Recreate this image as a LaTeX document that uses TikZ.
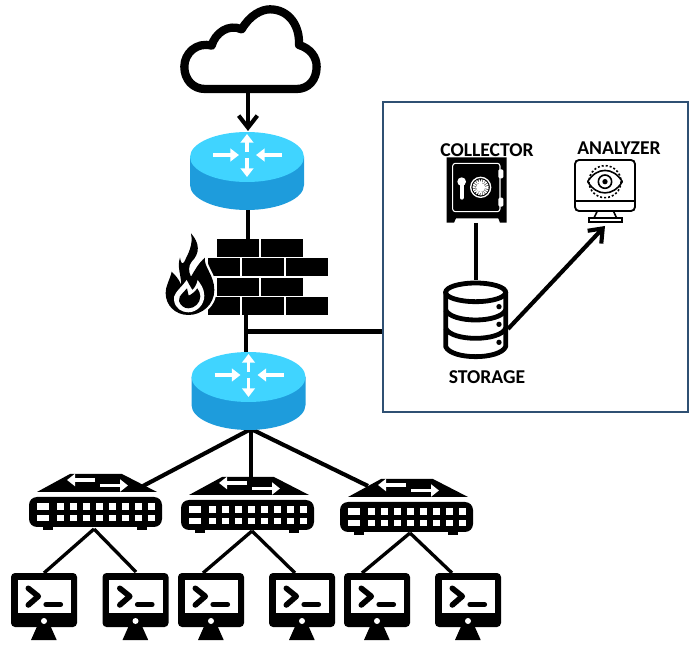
\documentclass[tikz,border=0pt]{standalone}
\usepackage{fontspec}
\setmainfont{Carlito}
\usetikzlibrary{arrows.meta}
\definecolor{routertop}{HTML}{40D4FF}
\definecolor{routerside}{HTML}{1E9CDC}
\definecolor{panelblue}{HTML}{2F5073}
\tikzset{
  px/.style={x=0.75pt,y=-0.75pt},
  wire/.style={line width=3.1pt,black},
  thinwire/.style={line width=2.5pt,black},
  barbwire/.style={line width=3.1pt,black,-{Straight Barb[length=9pt,width=14pt]}},
  whitearrow/.style={line width=2.4pt,white,-{Triangle[length=6.5pt,width=9.5pt]}},
  swarrow/.style={line width=2.4pt,white,-{Triangle[length=6pt,width=9pt]}},
  brick/.style={fill=black,draw=none},
  iconlabel/.style={font=\fontsize{14.7pt}{16pt}\selectfont\bfseries,inner sep=0pt,text=black},
  panelframe/.style={draw=panelblue,line width=2.2pt},
}
% router: top-ellipse centre at (#1,#2)
\newcommand{\drawrouter}[2]{%
  \begin{scope}[shift={(#1,#2)}]
    \fill[routerside] (-57,0) -- (-57,28) arc[start angle=180,end angle=0,x radius=57,y radius=25] -- (57,0) -- cycle;
    \fill[routertop] (0,0) ellipse[x radius=57,y radius=25];
    \draw[whitearrow] (-34,-2) -- (-8,-2);
    \draw[whitearrow] (35,-2) -- (9,-2);
    \draw[whitearrow] (0,-5) -- (0,-23);
    \draw[whitearrow] (0,1) -- (0,20);
  \end{scope}}
% switch: offset relative to first switch
\newcommand{\drawswitch}[2]{%
  \begin{scope}[shift={(#1,#2)}]
    \fill[black] (37,492) -- (70,474) -- (122,474) -- (157,492) -- cycle;
    \draw[swarrow] (95,480) -- (67,480);
    \draw[swarrow] (100,485.5) -- (128,485.5);
    \fill[black] (43,525) rectangle (53,530);
    \fill[black] (137,525) rectangle (147,530);
    \fill[black,rounded corners=6pt] (29,497) rectangle (162,527);
    \foreach \yy/\hh in {503/7,515/6}{
      \fill[white] (37,\yy) rectangle ++(12,\hh);
      \foreach \xx in {57,70,83,96,109,122,135,148}
        \fill[white] (\xx,\yy) rectangle ++(7,\hh);
    }
  \end{scope}}
% terminal: left edge #1, top 573
\newcommand{\drawterminal}[1]{%
  \begin{scope}[shift={(#1,573)}]
    \fill[black] (26.7,52) -- (39,52) -- (45.7,67) -- (20,67) -- cycle;
    \fill[black,rounded corners=3pt] (0,0) rectangle (66,54);
    \fill[white] (6.5,7) rectangle (60,40);
    \draw[black,line width=4.2pt,line cap=round,line join=round] (17.3,15.3) -- (27.3,23.3) -- (17.3,32);
    \draw[black,line width=3.9pt,line cap=round] (35,31.5) -- (49.5,31.5);
    \fill[white] (33,48) circle[radius=3];
  \end{scope}}
\begin{document}
\begin{tikzpicture}[px]
\useasboundingbox (0,0) rectangle (697,652);
% named connection points
\coordinate (cloudbottom) at (248,92);
\coordinate (routerAtop) at (248,131);
\coordinate (routerAbottom) at (248,209);
\coordinate (wallA) at (248,240);
\coordinate (wallB) at (246,314);
\coordinate (routerBtop) at (246,353);
\coordinate (tap) at (246,331.5);
\coordinate (panelW) at (383,331.5);
\coordinate (routerBbottom) at (251,429);
\coordinate (swAtop) at (143,486);
\coordinate (swBtop) at (251,484);
\coordinate (swCtop) at (368,486);
\coordinate (swAbot) at (94,529);
\coordinate (swBbot) at (252,531);
\coordinate (swCbot) at (410,533);
\coordinate (tA) at (44,573);
\coordinate (tB) at (136,572);
\coordinate (tC) at (203,573);
\coordinate (tD) at (295,573);
\coordinate (tE) at (362,573);
\coordinate (tF) at (452,573);
\coordinate (safebottom) at (476,223);
\coordinate (dbtop) at (476,280);
\coordinate (dbright) at (508,329);
\coordinate (monbottom) at (605,226);

% cloud (zoom coordinates)
\begin{scope}[shift={(150,0)},scale=0.3333]
  \draw[black,line width=6.2pt,fill=white,line join=round]
    (165,267) .. controls (130,267) and (103,240) .. (103,200)
    .. controls (103,160) and (140,125) .. (185,137)
    .. controls (195,100) and (235,70) .. (275,88)
    .. controls (300,45) and (335,28) .. (360,28)
    .. controls (415,28) and (450,75) .. (447,135)
    .. controls (480,145) and (500,170) .. (500,200)
    .. controls (500,240) and (475,267) .. (440,267)
    -- cycle;
\end{scope}

% connectors behind the icons
\draw[barbwire] (cloudbottom) -- (routerAtop);
\draw[wire] (routerAbottom) -- (wallA);
\draw[wire] (wallB) -- (routerBtop);
\draw[wire] (tap) -- (panelW);
\draw[wire] (routerBbottom) -- (swAtop);
\draw[wire] (routerBbottom) -- (swBtop);
\draw[wire] (routerBbottom) -- (swCtop);
\draw[thinwire] (swAbot) -- (tA);
\draw[thinwire] (swAbot) -- (tB);
\draw[thinwire] (swBbot) -- (tC);
\draw[thinwire] (swBbot) -- (tD);
\draw[thinwire] (swCbot) -- (tE);
\draw[thinwire] (swCbot) -- (tF);

% routers
\drawrouter{247}{157}
\drawrouter{248.5}{377}

% firewall bricks
\foreach \yy in {239,278}{
  \fill[brick] (217,\yy) rectangle (259,\yy+18);
  \fill[brick] (261,\yy) rectangle (303,\yy+18);
}
\foreach \yy in {258,297}{
  \fill[brick] (208,\yy) rectangle (240,\yy+18);
  \fill[brick] (242,\yy) rectangle (284,\yy+18);
  \fill[brick] (286,\yy) rectangle (328,\yy+18);
}
% flame (zoom coordinates)
\begin{scope}[shift={(155,225)},scale=0.3333]
  \def\flamepath{(108,25) .. controls (135,55) and (135,85) .. (110,110)
    .. controls (100,122) and (100,140) .. (108,155)
    .. controls (120,135) and (130,115) .. (150,98)
    .. controls (145,125) and (178,150) .. (178,195)
    .. controls (178,240) and (140,270) .. (100,270)
    .. controls (60,270) and (32,240) .. (32,205)
    .. controls (32,180) and (45,165) .. (50,140)
    .. controls (60,150) and (70,160) .. (78,178)
    .. controls (80,155) and (65,125) .. (75,98)
    .. controls (78,115) and (82,120) .. (88,110)
    .. controls (100,85) and (115,60) .. (108,25) -- cycle}
  \draw[white,line width=3.5pt,line join=round] \flamepath;
  \fill[black] \flamepath;
  \fill[white] (85,178) .. controls (65,200) and (55,210) .. (57,225)
    .. controls (60,250) and (80,262) .. (100,262)
    .. controls (125,262) and (148,240) .. (148,212)
    .. controls (148,190) and (135,175) .. (128,165)
    .. controls (125,180) and (118,190) .. (112,195)
    .. controls (106,185) and (100,175) .. (95,165) -- cycle;
  \fill[black] (84,203) .. controls (76,212) and (70,218) .. (72,228)
    .. controls (76,242) and (88,250) .. (100,250)
    .. controls (118,250) and (136,235) .. (136,214)
    .. controls (136,205) and (132,198) .. (127,190)
    .. controls (120,200) and (110,208) .. (101,212)
    .. controls (99,205) and (98,198) .. (96,190) -- cycle;
\end{scope}

% switches
\drawswitch{0}{0}
\drawswitch{152}{3}
\drawswitch{311}{5}

% terminals
\foreach \mx in {11,102.5,178,269,344,435} {\drawterminal{\mx}}

% panel
\draw[panelframe] (383,102) rectangle (688,412);
\draw[wire] (safebottom) -- (dbtop);
\draw[barbwire] (dbright) -- (monbottom);

% safe (zoom coordinates)
\begin{scope}[shift={(440,150)},scale=0.3333]
  \fill[black] (20,22) -- (200,22) -- (200,218) -- (180,218) -- (175,205) -- (48,205) -- (42,218) -- (20,218) -- cycle;
  \draw[white,line width=0.8pt,rounded corners=2pt] (38,40) rectangle (180,185);
  \fill[white,rounded corners=1pt] (175,58) rectangle (190,85);
  \fill[white,rounded corners=1pt] (175,143) rectangle (190,170);
  \fill[white] (65,95) circle[radius=13];
  \draw[white,line width=3pt,line cap=round] (65,100) -- (65,143);
  \draw[white,line width=1pt] (122,112) circle[radius=30];
  \draw[white,line width=2.6pt,dash pattern=on 1.1pt off 0.5pt] (122,112) circle[radius=19];
  \fill[white] (122,112) circle[radius=14];
\end{scope}

% storage (zoom coordinates)
\begin{scope}[shift={(435,275)},scale=0.3333]
  \fill[white] (32,52) rectangle (212,215);
  \draw[black,line width=3.6pt,line cap=round,line join=round]
    (32,52) -- (32,215) .. controls (50,255) and (194,255) .. (212,215) -- (212,52);
  \draw[black,line width=3.6pt] (122,52) ellipse[x radius=90,y radius=28];
  \draw[black,line width=3.6pt] (32,105) .. controls (50,145) and (194,145) .. (212,105);
  \draw[black,line width=3.6pt] (32,160) .. controls (50,200) and (194,200) .. (212,160);
  \foreach \yy in {95,148,202} \fill[black] (192,\yy) circle[radius=8];
\end{scope}

% analyzer monitor (zoom coordinates)
\begin{scope}[shift={(565,150)},scale=0.3333]
  \draw[black,line width=1.4pt,rounded corners=3pt] (30,30) rectangle (210,183);
  \draw[black,line width=1.6pt] (30,152) -- (210,152);
  \draw[black,line width=1.2pt] (97,183) -- (87,204);
  \draw[black,line width=1.2pt] (145,183) -- (155,204);
  \draw[black,line width=1.3pt] (72,203) rectangle (170,215);
  \draw[black,line width=1.2pt,line join=round] (68,95) .. controls (95,50) and (145,50) .. (172,95) .. controls (145,140) and (95,140) .. (68,95) -- cycle;
  \draw[black,line width=1.2pt] (120,95) circle[radius=20];
  \fill[black] (120,95) circle[radius=8];
  \draw[black,line width=1.2pt,dash pattern=on 1.5pt off 1.5pt] (120,95) circle[radius=48];
\end{scope}

% labels
\node[iconlabel] (collector) at (487,150) {COLLECTOR};
\node[iconlabel] (analyzer) at (619,148) {ANALYZER};
\node[iconlabel] (storage) at (487,377) {STORAGE};
\end{tikzpicture}
\end{document}
